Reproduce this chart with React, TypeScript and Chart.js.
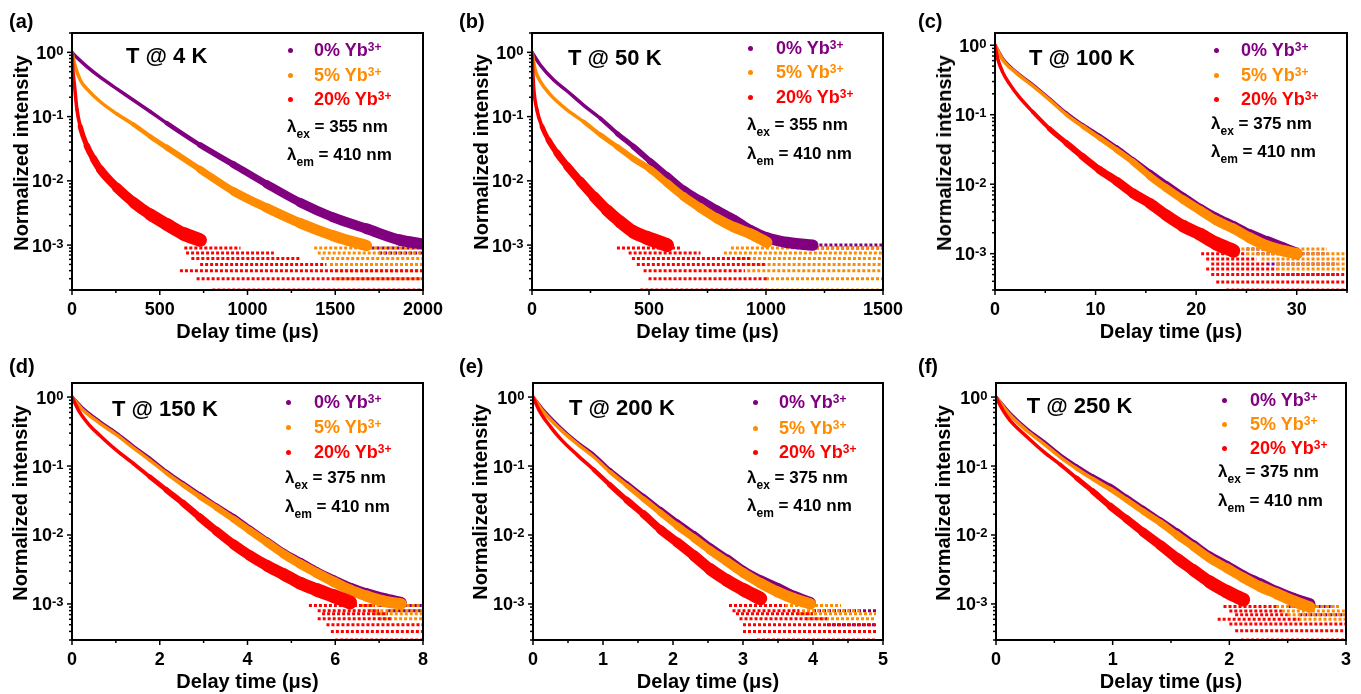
import React, { useEffect, useRef } from "react";
import { Chart, registerables } from "chart.js";
Chart.register(...registerables);

const FONT = '"Liberation Sans", Arial, Helvetica, sans-serif';
const SERIES_LABELS = ["0% Yb", "5% Yb", "20% Yb"];
const COLORS = ["#800080", "#ff8c00", "#ff0000"];
// visual spread of each scatter band (style only)
const SPREAD = [1, 1, 1.35];

// ---------- (a) T @ 4 K : [delay time (µs), normalized intensity] ----------
const A_0 = [[0, 1], [28, 0.83], [85, 0.6], [161, 0.41], [256, 0.27], [351, 0.18], [445, 0.12], [540, 0.079], [730, 0.036], [919, 0.018], [1109, 0.0089], [1299, 0.0046], [1488, 0.0027], [1678, 0.0018], [1867, 0.0012], [1990, 0.00105]];
const A_5 = [[0, 1], [19, 0.6], [47, 0.37], [85, 0.27], [161, 0.17], [256, 0.11], [351, 0.075], [445, 0.049], [540, 0.033], [730, 0.015], [919, 0.0069], [1109, 0.0038], [1299, 0.0022], [1488, 0.0014], [1678, 0.00098]];
const A_20 = [[0, 1], [6, 0.5], [13, 0.33], [28, 0.13], [47, 0.07], [85, 0.035], [123, 0.022], [161, 0.015], [256, 0.0078], [351, 0.0046], [445, 0.003], [540, 0.0021], [635, 0.0015], [730, 0.0012]];
// noise floor rows: [level, start, end]
const A_0_FLOOR = [[0.0009, 1650, 2000], [0.00075, 1750, 2000]];
const A_5_FLOOR = [[0.0009, 1380, 2000], [0.00075, 1400, 2000], [0.00062, 1420, 2000], [0.0005, 1470, 2000], [0.0004, 1500, 2000], [0.0003, 1500, 2000]];
const A_20_FLOOR = [[0.0009, 640, 960], [0.00075, 650, 1150], [0.00062, 680, 1300], [0.0005, 730, 1450], [0.0004, 615, 2000], [0.0003, 710, 2000], [0.0002, 800, 2000]];
const A_XTICKS = [0, 500, 1000, 1500, 2000];

// ---------- (b) T @ 50 K ----------
const B_0 = [[0, 1], [36, 0.63], [93, 0.37], [150, 0.25], [221, 0.15], [292, 0.094], [363, 0.055], [434, 0.034], [506, 0.02], [577, 0.012], [648, 0.0073], [719, 0.005], [790, 0.0035], [862, 0.0025], [933, 0.0017], [1004, 0.0013], [1090, 0.0011], [1200, 0.001]];
const B_5 = [[0, 1], [14, 0.53], [36, 0.35], [78, 0.22], [150, 0.127], [221, 0.083], [292, 0.052], [363, 0.034], [434, 0.022], [506, 0.015], [577, 0.0092], [648, 0.0057], [719, 0.0038], [790, 0.0026], [862, 0.0019], [933, 0.0015], [1004, 0.0011]];
const B_20 = [[0, 1], [7, 0.29], [21, 0.127], [43, 0.07], [71, 0.043], [107, 0.027], [150, 0.017], [206, 0.0098], [264, 0.0057], [320, 0.0035], [377, 0.0023], [434, 0.0016], [491, 0.0013], [577, 0.001]];
const B_0_FLOOR = [[0.001, 1100, 1500], [0.0009, 1150, 1500]];
const B_5_FLOOR = [[0.0009, 850, 1500], [0.00075, 820, 1500], [0.00062, 880, 1500], [0.0005, 900, 1500], [0.0004, 920, 1500], [0.0003, 1000, 1500], [0.0002, 1000, 1500]];
const B_20_FLOOR = [[0.0009, 363, 640], [0.00075, 413, 720], [0.00062, 427, 940], [0.0005, 448, 1000], [0.0004, 477, 910], [0.0003, 498, 1004], [0.0002, 463, 1004]];
const B_XTICKS = [0, 500, 1000, 1500];

// ---------- (c) T @ 100 K ----------
const C_0 = [[0, 1], [0.76, 0.64], [2.1, 0.41], [3.75, 0.27], [5.4, 0.17], [7.1, 0.105], [8.7, 0.071], [10.4, 0.049], [12.1, 0.033], [13.7, 0.022], [15.4, 0.0144], [17, 0.0098], [18.7, 0.0066], [20.4, 0.0045], [22, 0.0033], [23.7, 0.0025], [25.3, 0.0019], [27, 0.0015], [28.7, 0.0012], [30, 0.001]];
const C_5 = [[0, 1], [0.76, 0.62], [2.1, 0.4], [3.75, 0.26], [5.4, 0.165], [7.1, 0.1], [8.7, 0.068], [10.4, 0.046], [12.1, 0.031], [13.7, 0.021], [15.4, 0.013], [17, 0.0088], [18.7, 0.006], [20.4, 0.0042], [22, 0.003], [23.7, 0.0023], [25.3, 0.0017], [27, 0.0013], [28.7, 0.0011], [30, 0.001]];
const C_20 = [[0, 1], [0.27, 0.64], [0.76, 0.41], [1.43, 0.28], [2.4, 0.18], [3.75, 0.11], [5.4, 0.063], [7.1, 0.039], [8.7, 0.025], [10.4, 0.016], [12.1, 0.011], [13.7, 0.0074], [15.4, 0.0053], [17, 0.0036], [18.7, 0.0025], [20.4, 0.0019], [22, 0.0014], [23.7, 0.0011]];
const C_0_FLOOR = [[0.00117, 25, 30], [0.001, 26, 33], [0.00071, 27, 34], [0.0005, 28, 34]];
const C_5_FLOOR = [[0.00117, 24, 33], [0.001, 25, 35], [0.00084, 26.5, 35], [0.00071, 28, 35], [0.0006, 28, 35]];
const C_20_FLOOR = [[0.001, 20.5, 25], [0.00084, 21, 26], [0.00071, 21.5, 27], [0.0006, 21, 28], [0.0005, 21.5, 35], [0.00039, 22, 35], [0.0003, 23, 35]];
const C_XTICKS = [0, 10, 20, 30];

// ---------- (d) T @ 150 K ----------
const D_0 = [[0, 1], [0.25, 0.68], [0.63, 0.44], [1.01, 0.3], [1.39, 0.195], [1.77, 0.13], [2.15, 0.083], [2.53, 0.056], [2.91, 0.038], [3.29, 0.026], [3.68, 0.018], [4.06, 0.012], [4.44, 0.0081], [4.82, 0.0055], [5.2, 0.004], [5.58, 0.0029], [5.96, 0.0022], [6.34, 0.0017], [6.72, 0.0014], [7.1, 0.0012], [7.5, 0.00105]];
const D_5 = [[0, 1], [0.25, 0.65], [0.63, 0.42], [1.01, 0.285], [1.39, 0.185], [1.77, 0.122], [2.15, 0.079], [2.53, 0.053], [2.91, 0.036], [3.29, 0.025], [3.68, 0.017], [4.06, 0.0115], [4.44, 0.0078], [4.82, 0.0053], [5.2, 0.0038], [5.58, 0.0028], [5.96, 0.0021], [6.34, 0.0016], [6.72, 0.0013], [7.1, 0.0011], [7.5, 0.001]];
const D_20 = [[0, 1], [0.17, 0.61], [0.4, 0.39], [0.63, 0.28], [1.01, 0.17], [1.39, 0.11], [1.77, 0.07], [2.15, 0.045], [2.53, 0.029], [2.91, 0.018], [3.29, 0.0114], [3.68, 0.0073], [4.06, 0.005], [4.44, 0.0036], [4.82, 0.0027], [5.2, 0.002], [5.58, 0.0016], [5.96, 0.0013], [6.34, 0.00105]];
const D_0_FLOOR = [[0.00095, 7.0, 8], [0.0008, 7.2, 8]];
const D_5_FLOOR = [[0.00095, 6.6, 8], [0.0008, 6.8, 8], [0.00072, 6.9, 8], [0.00061, 7.0, 8]];
const D_20_FLOOR = [[0.00095, 5.4, 6.9], [0.0008, 5.6, 7.0], [0.00072, 5.7, 7.2], [0.00061, 5.6, 7.3], [0.0005, 5.8, 8], [0.0004, 5.9, 8], [0.0003, 6.0, 8]];
const D_XTICKS = [0, 2, 4, 6, 8];

// ---------- (e) T @ 200 K ----------
const E_0 = [[0, 1], [0.15, 0.64], [0.39, 0.36], [0.63, 0.22], [0.87, 0.145], [1.1, 0.088], [1.34, 0.056], [1.58, 0.036], [1.82, 0.023], [2.06, 0.015], [2.3, 0.01], [2.53, 0.0066], [2.77, 0.0045], [3.01, 0.003], [3.25, 0.0022], [3.49, 0.0017], [3.72, 0.0013], [3.96, 0.00105]];
const E_5 = [[0, 1], [0.15, 0.61], [0.39, 0.34], [0.63, 0.21], [0.87, 0.135], [1.1, 0.082], [1.34, 0.052], [1.58, 0.033], [1.82, 0.021], [2.06, 0.0135], [2.3, 0.009], [2.53, 0.006], [2.77, 0.0041], [3.01, 0.0028], [3.25, 0.002], [3.49, 0.0015], [3.72, 0.0012], [3.96, 0.001]];
const E_20 = [[0, 1], [0.1, 0.61], [0.25, 0.37], [0.39, 0.25], [0.63, 0.145], [0.87, 0.088], [1.1, 0.053], [1.34, 0.032], [1.58, 0.02], [1.82, 0.012], [2.06, 0.0078], [2.3, 0.005], [2.53, 0.0032], [2.77, 0.0022], [3.01, 0.0016], [3.25, 0.0012]];
const E_0_FLOOR = [[0.0008, 4.0, 4.9], [0.0005, 4.2, 4.9]];
const E_5_FLOOR = [[0.00095, 3.6, 4.4], [0.0008, 3.7, 4.7], [0.00072, 3.8, 4.9], [0.00061, 3.9, 4.9]];
const E_20_FLOOR = [[0.00095, 2.8, 3.6], [0.0008, 2.85, 3.8], [0.00072, 2.9, 4.0], [0.00061, 2.95, 4.2], [0.0005, 3.0, 4.9], [0.0004, 3.0, 4.9], [0.0003, 3.2, 4.9]];
const E_XTICKS = [0, 1, 2, 3, 4, 5];

// ---------- (f) T @ 250 K ----------
const F_0 = [[0, 1], [0.12, 0.58], [0.26, 0.35], [0.41, 0.225], [0.55, 0.145], [0.69, 0.1], [0.83, 0.071], [0.98, 0.051], [1.12, 0.035], [1.26, 0.024], [1.41, 0.016], [1.55, 0.011], [1.69, 0.0074], [1.83, 0.005], [1.98, 0.0036], [2.12, 0.0026], [2.26, 0.002], [2.41, 0.0015], [2.55, 0.0012], [2.69, 0.001]];
const F_5 = [[0, 1], [0.12, 0.55], [0.26, 0.33], [0.41, 0.21], [0.55, 0.135], [0.69, 0.092], [0.83, 0.065], [0.98, 0.046], [1.12, 0.032], [1.26, 0.022], [1.41, 0.015], [1.55, 0.01], [1.69, 0.0068], [1.83, 0.0046], [1.98, 0.0033], [2.12, 0.0024], [2.26, 0.0018], [2.41, 0.0014], [2.55, 0.0011], [2.69, 0.0009]];
const F_20 = [[0, 1], [0.06, 0.64], [0.12, 0.46], [0.26, 0.27], [0.41, 0.16], [0.55, 0.105], [0.69, 0.067], [0.83, 0.043], [0.98, 0.026], [1.12, 0.017], [1.26, 0.011], [1.41, 0.0071], [1.55, 0.0046], [1.69, 0.0031], [1.83, 0.0021], [1.98, 0.0015], [2.12, 0.00115]];
const F_0_FLOOR = [[0.00092, 2.5, 2.9], [0.0007, 2.6, 3]];
const F_5_FLOOR = [[0.00092, 2.4, 2.95], [0.00079, 2.45, 3], [0.0007, 2.5, 3], [0.0006, 2.55, 3]];
const F_20_FLOOR = [[0.00092, 1.95, 2.4], [0.00079, 2.0, 2.45], [0.0007, 2.05, 2.5], [0.0006, 1.9, 2.6], [0.00051, 2.0, 3], [0.00041, 2.05, 3], [0.0003, 2.1, 3]];
const F_XTICKS = [0, 1, 2, 3];

// ---------- panel configuration (layout kept separate from data) ----------
const PANELS = [
  { tag: "(a)", temp: "T @ 4 K", ex: "355", em: "410", xMax: 2000, yMin: 2e-4, yMax: 2, xTicks: A_XTICKS, xMinor: 250,
    series: [A_0, A_5, A_20], floors: [A_0_FLOOR, A_5_FLOOR, A_20_FLOOR],
    plot: { l: 72, t: 33, r: 423, b: 290 }, tagPos: [9, 28], tempPos: [126, 64], dotX: 290.5, dotY: [50.7, 75, 99.5], textX: 314, lamX: 287, lamY: [132.5, 160.5], titleC: [21, 152.5] },
  { tag: "(b)", temp: "T @ 50 K", ex: "355", em: "410", xMax: 1500, yMin: 2e-4, yMax: 2, xTicks: B_XTICKS, xMinor: 250,
    series: [B_0, B_5, B_20], floors: [B_0_FLOOR, B_5_FLOOR, B_20_FLOOR],
    plot: { l: 532, t: 33, r: 883, b: 290 }, tagPos: [459, 28], tempPos: [568, 66], dotX: 750, dotY: [48.3, 72.7, 97.3], textX: 776, lamX: 747, lamY: [130.5, 159], titleC: [481, 152] },
  { tag: "(c)", temp: "T @ 100 K", ex: "375", em: "410", xMax: 35, yMin: 3e-4, yMax: 1.5, xTicks: C_XTICKS, xMinor: 5,
    series: [C_0, C_5, C_20], floors: [C_0_FLOOR, C_5_FLOOR, C_20_FLOOR],
    plot: { l: 995, t: 33, r: 1347, b: 290 }, tagPos: [918, 28], tempPos: [1029, 66], dotX: 1216, dotY: [50.7, 75.3, 99], textX: 1241, lamX: 1211, lamY: [129, 157.3], titleC: [943.5, 152.5] },
  { tag: "(d)", temp: "T @ 150 K", ex: "375", em: "410", xMax: 8, yMin: 3e-4, yMax: 1.6, xTicks: D_XTICKS, xMinor: 1,
    series: [D_0, D_5, D_20], floors: [D_0_FLOOR, D_5_FLOOR, D_20_FLOOR],
    plot: { l: 72, t: 383, r: 423, b: 640 }, tagPos: [9, 373], tempPos: [112, 416.7], dotX: 288, dotY: [402.3, 427.3, 452.3], textX: 314, lamX: 285, lamY: [483.3, 512], titleC: [20, 502.5] },
  { tag: "(e)", temp: "T @ 200 K", ex: "375", em: "410", xMax: 5, yMin: 3e-4, yMax: 1.6, xTicks: E_XTICKS, xMinor: 0.5,
    series: [E_0, E_5, E_20], floors: [E_0_FLOOR, E_5_FLOOR, E_20_FLOOR],
    plot: { l: 533, t: 383, r: 883, b: 640 }, tagPos: [459, 373], tempPos: [569, 416], dotX: 755, dotY: [402.3, 428.3, 452.3], textX: 779, lamX: 747, lamY: [483.3, 511.7], titleC: [480, 502] },
  { tag: "(f)", temp: "T @ 250 K", ex: "375", em: "410", xMax: 3, yMin: 3e-4, yMax: 1.6, xTicks: F_XTICKS, xMinor: 0.5,
    series: [F_0, F_5, F_20], floors: [F_0_FLOOR, F_5_FLOOR, F_20_FLOOR],
    plot: { l: 996, t: 383, r: 1346, b: 640 }, tagPos: [918, 373], tempPos: [1026.7, 414], dotX: 1224, dotY: [400, 424, 448.3], textX: 1250, lamX: 1218, lamY: [477.7, 506], titleC: [943, 502.5] },
];

const Y_AXIS_W = 67;
const X_AXIS_H = 58;
const PAD_TOP = 14;
const PAD_RIGHT = 26;

// scatter band grows wider as the counts drop (style rule derived from the value)
function bandWidth(y: number, spread: number) {
  const L = -Math.log10(y);
  return Math.max(3.5, Math.min(14, 3.5 + (L - 1) * 4 * spread));
}

function Panel({ cfg }: { cfg: any }) {
  const ref = useRef<HTMLCanvasElement>(null);
  const { l, t, r, b } = cfg.plot;
  const cw = r - l + Y_AXIS_W + PAD_RIGHT;
  const ch = b - t + PAD_TOP + X_AXIS_H;

  useEffect(() => {
    if (!ref.current) return;
    // built bottom-to-top; Chart.js paints the first dataset last, so reverse afterwards
    const layers: any[] = [];
    cfg.floors.forEach((rows: number[][], si: number) => {
      rows.forEach(([lvl, s, e]) => {
        layers.push({
          type: "line",
          data: [{ x: s, y: lvl }, { x: e, y: lvl }],
          borderColor: COLORS[si],
          borderWidth: 3,
          borderDash: [3, 2],
          pointRadius: 0,
          fill: false,
          clip: 0,
        });
      });
    });
    cfg.series.forEach((pts: number[][], si: number) => {
      layers.push({
        type: "line",
        label: SERIES_LABELS[si],
        data: pts.map(([x, y]) => ({ x, y })),
        borderColor: COLORS[si],
        backgroundColor: COLORS[si],
        borderWidth: 4,
        pointRadius: 0,
        fill: false,
        clip: 0,
        cubicInterpolationMode: "monotone",
        borderCapStyle: "round",
        borderJoinStyle: "round",
        segment: {
          borderWidth: (ctx: any) => bandWidth(Math.sqrt(ctx.p0.parsed.y * ctx.p1.parsed.y), SPREAD[si]),
        },
      });
    });
    const datasets = layers.reverse();

    const framePlugin = {
      id: "frame",
      afterDatasetsDraw(chart: any) {
        const { ctx, chartArea: ca, scales } = chart;
        const xs = scales.x;
        const ys = scales.y;
        ctx.save();
        ctx.strokeStyle = "#000";
        ctx.lineWidth = 2;
        ctx.strokeRect(ca.left, ca.top, ca.right - ca.left, ca.bottom - ca.top);
        ctx.lineWidth = 1.5;
        const n = Math.round(cfg.xMax / cfg.xMinor);
        for (let i = 0; i <= n; i++) {
          const v = i * cfg.xMinor;
          const px = xs.getPixelForValue(v);
          const major = cfg.xTicks.some((tv: number) => Math.abs(tv - v) < 1e-9);
          ctx.beginPath();
          ctx.moveTo(px, ca.bottom);
          ctx.lineTo(px, ca.bottom + (major ? 5 : 3));
          ctx.stroke();
        }
        const pLo = Math.floor(Math.log10(cfg.yMin));
        const pHi = Math.ceil(Math.log10(cfg.yMax));
        for (let p = pLo; p <= pHi; p++) {
          for (let k = 1; k <= 9; k++) {
            const v = k * Math.pow(10, p);
            if (v < cfg.yMin * 0.999 || v > cfg.yMax * 1.001) continue;
            const py = ys.getPixelForValue(v);
            ctx.beginPath();
            ctx.moveTo(ca.left, py);
            ctx.lineTo(ca.left - (k === 1 ? 5 : 3), py);
            ctx.stroke();
          }
        }
        ctx.fillStyle = "#000";
        ctx.textBaseline = "alphabetic";
        for (let p = pLo; p <= pHi; p++) {
          const v = Math.pow(10, p);
          if (v < cfg.yMin || v > cfg.yMax) continue;
          const py = ys.getPixelForValue(v);
          const exp = String(p);
          ctx.font = `bold 13px ${FONT}`;
          ctx.textAlign = "right";
          const xr = ca.left - 8.5;
          ctx.fillText(exp, xr, py + 2.5);
          const ew = ctx.measureText(exp).width;
          ctx.font = `bold 18px ${FONT}`;
          ctx.fillText("10", xr - ew, py + 6.5);
        }
        ctx.restore();
      },
    };

    const chart = new Chart(ref.current, {
      type: "line",
      data: { datasets },
      options: {
        animation: false,
        responsive: false,
        maintainAspectRatio: false,
        events: [],
        layout: { padding: { top: PAD_TOP, right: PAD_RIGHT, left: 0, bottom: 0 } },
        plugins: { legend: { display: false }, tooltip: { enabled: false } },
        scales: {
          x: {
            type: "linear",
            min: 0,
            max: cfg.xMax,
            grid: { display: false },
            border: { display: false },
            afterBuildTicks: (s: any) => {
              s.ticks = cfg.xTicks.map((v: number) => ({ value: v }));
            },
            afterFit: (s: any) => {
              s.height = X_AXIS_H;
            },
            ticks: {
              font: { family: FONT, size: 18, weight: "bold" },
              color: "#000",
              padding: 1,
              maxRotation: 0,
              autoSkip: false,
              callback: (v: any) => String(v),
            },
            title: {
              display: true,
              text: "Delay time (μs)",
              font: { family: FONT, size: 20, weight: "bold" },
              color: "#000",
              padding: { top: 4, bottom: 4 },
            },
          },
          y: {
            type: "logarithmic",
            min: cfg.yMin,
            max: cfg.yMax,
            grid: { display: false },
            border: { display: false },
            ticks: { display: false },
            afterFit: (s: any) => {
              s.width = Y_AXIS_W;
            },
          },
        },
      } as any,
      plugins: [framePlugin],
    });
    return () => chart.destroy();
  }, [cfg]);

  const txt = (x: number, base: number, size: number, color: string, content: any, key: string) => (
    <div
      key={key}
      style={{
        position: "absolute",
        left: x,
        top: base - 0.8465 * size,
        fontSize: size,
        lineHeight: `${size}px`,
        fontFamily: FONT,
        fontWeight: "bold",
        color,
        whiteSpace: "nowrap",
      }}
    >
      {content}
    </div>
  );

  return (
    <>
      <canvas
        ref={ref}
        width={cw}
        height={ch}
        style={{ position: "absolute", left: l - Y_AXIS_W, top: t - PAD_TOP, width: cw, height: ch }}
      />
      {txt(cfg.tagPos[0], cfg.tagPos[1], 20, "#000", cfg.tag, "tag")}
      {txt(cfg.tempPos[0], cfg.tempPos[1], 22, "#000", cfg.temp, "temp")}
      {SERIES_LABELS.map((lab, i) => (
        <React.Fragment key={"leg" + i}>
          <div
            style={{
              position: "absolute",
              left: cfg.dotX - 2.5,
              top: cfg.dotY[i] - 2.5,
              width: 5,
              height: 5,
              borderRadius: "50%",
              background: COLORS[i],
            }}
          />
          {txt(
            cfg.textX,
            cfg.dotY[i] + 6,
            18,
            COLORS[i],
            <>
              {lab}
              <span style={{ fontSize: 12, position: "relative", top: -5, lineHeight: 0 }}>3+</span>
            </>,
            "legt" + i
          )}
        </React.Fragment>
      ))}
      {txt(
        cfg.lamX,
        cfg.lamY[0],
        17,
        "#000",
        <>
          λ<span style={{ fontSize: 12, position: "relative", top: 6, lineHeight: 0 }}>ex</span> = {cfg.ex} nm
        </>,
        "lex"
      )}
      {txt(
        cfg.lamX,
        cfg.lamY[1],
        17,
        "#000",
        <>
          λ<span style={{ fontSize: 12, position: "relative", top: 6, lineHeight: 0 }}>em</span> = {cfg.em} nm
        </>,
        "lem"
      )}
      <div
        style={{
          position: "absolute",
          left: cfg.titleC[0],
          top: cfg.titleC[1],
          transform: "translate(-50%, -50%) rotate(-90deg)",
          fontSize: 20,
          lineHeight: "24px",
          fontFamily: FONT,
          fontWeight: "bold",
          color: "#000",
          whiteSpace: "nowrap",
        }}
      >
        Normalized intensity
      </div>
    </>
  );
}

export default function App() {
  return (
    <div
      style={{
        position: "fixed",
        left: 0,
        top: 0,
        width: 1361,
        height: 694,
        background: "#fff",
        overflow: "hidden",
      }}
    >
      {PANELS.map((cfg, i) => (
        <Panel key={i} cfg={cfg} />
      ))}
    </div>
  );
}
